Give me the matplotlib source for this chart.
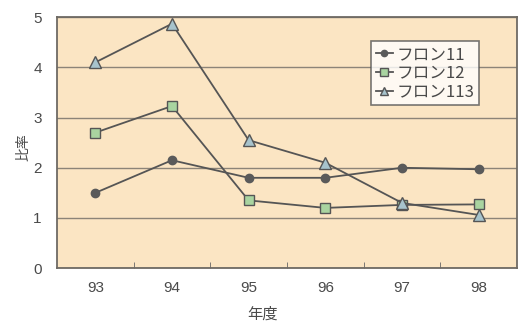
import matplotlib
matplotlib.use("Agg")
import matplotlib.pyplot as plt

plt.rcParams["font.family"] = ["Noto Sans CJK JP", "DejaVu Sans"]

years = ["93", "94", "95", "96", "97", "98"]
cfc11 = [1.5, 2.15, 1.8, 1.8, 2.0, 1.97]
cfc12 = [2.7, 3.23, 1.35, 1.2, 1.26, 1.27]
cfc113 = [4.1, 4.87, 2.55, 2.1, 1.3, 1.06]
labels = ["フロン11", "フロン12", "フロン113"]

TEXT = "#4a4a4a"
LINE = "#555555"

fig = plt.figure(figsize=(5.18, 3.25), dpi=100)
ax = fig.add_axes([0.110, 0.175, 0.888, 0.772])
ax.set_facecolor("#fbe5c3")

x = list(range(len(years)))
ax.plot(x, cfc11, color=LINE, lw=1.3, marker="o", ms=6,
        mfc="#5a5a5a", mec="#5a5a5a", label=labels[0])
ax.plot(x, cfc12, color=LINE, lw=1.3, marker="s", ms=7,
        mfc="#a9d4a0", mec=LINE, mew=1.0, label=labels[1])
ax.plot(x, cfc113, color=LINE, lw=1.3, marker="^", ms=8,
        mfc="#a7c3cc", mec=LINE, mew=1.0, label=labels[2])

ax.set_xlim(-0.5, len(years) - 0.5)
ax.set_ylim(0, 5)
ax.set_yticks(range(6))
ax.yaxis.grid(True, color="#8c8478", lw=1.0)
ax.set_axisbelow(True)

# category labels centred, tick marks sit between categories
ax.set_xticks(x)
ax.set_xticklabels(years)
ax.set_xticks([i + 0.5 for i in x[:-1]], minor=True)
ax.tick_params(axis="x", which="major", length=0, pad=9, labelcolor=TEXT)
ax.tick_params(axis="x", which="minor", length=4, direction="in", color="#666666")
ax.tick_params(axis="y", length=0, pad=11, labelcolor=TEXT)
for t in ax.get_xticklabels() + ax.get_yticklabels():
    t.set_family("Liberation Sans")
    t.set_fontsize(11)

for s in ax.spines.values():
    s.set_color("#6e6a64")
    s.set_linewidth(1.3)

fig.text(0.506, 0.032, "年度", ha="center", va="center", fontsize=11, color=TEXT)
fig.text(0.045, 0.548, "比率", ha="center", va="center", rotation=90,
         fontsize=10, color=TEXT)

leg = ax.legend(loc="upper left", bbox_to_anchor=(0.683, 0.905), fontsize=12,
                frameon=True, fancybox=False, handlelength=1.0, handletextpad=0.2,
                labelspacing=0.1, borderpad=0.3, borderaxespad=0, markerscale=0.75,
                labelcolor=TEXT)
leg.get_frame().set_edgecolor("#555555")
leg.get_frame().set_linewidth(1.2)
leg.get_frame().set_facecolor("white")

fig.savefig("out.png", dpi=100)
